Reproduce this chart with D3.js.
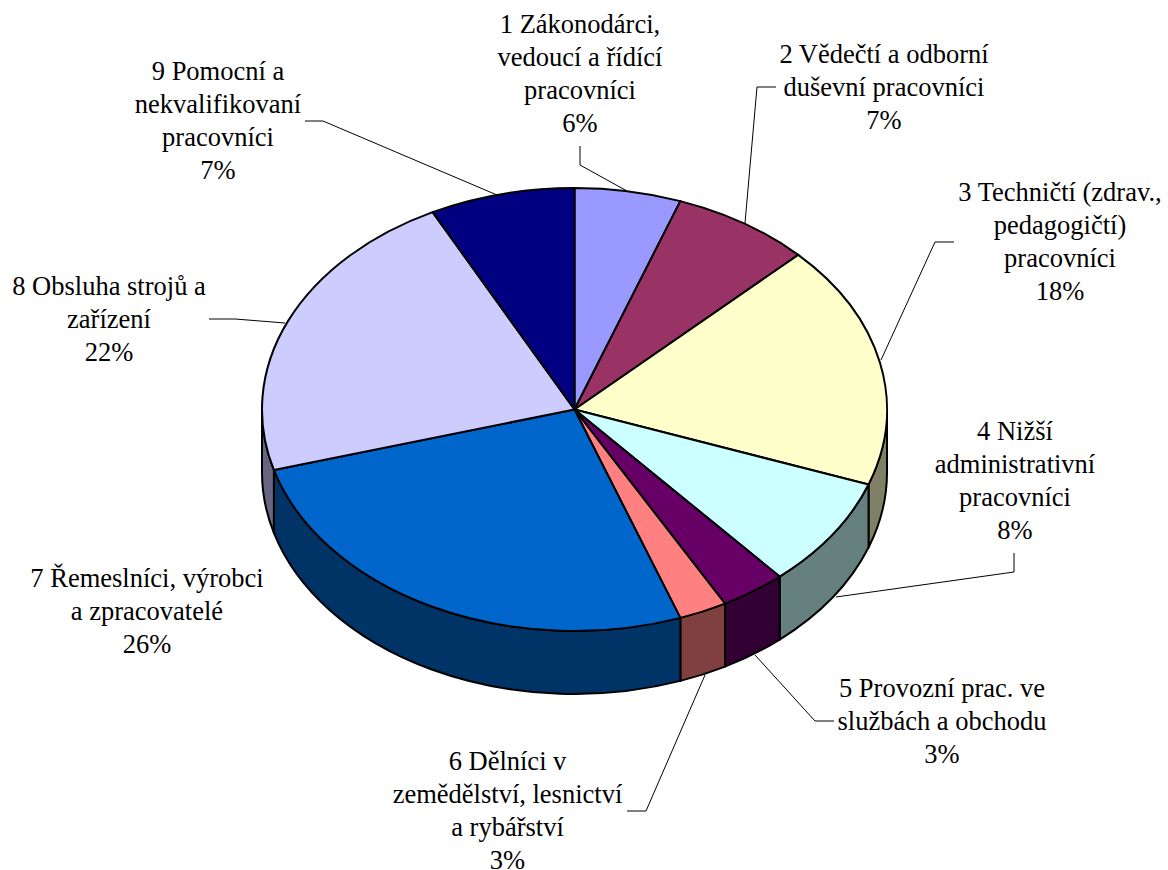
<!DOCTYPE html>
<html><head><meta charset="utf-8">
<script src="https://cdn.jsdelivr.net/npm/d3@7/dist/d3.min.js"></script>
<style>html,body{margin:0;padding:0;background:#fff}svg{display:block}</style>
</head><body><svg id="c" width="1168" height="870"></svg>
<script>
const categories=["1 Zákonodárci, vedoucí a řídící pracovníci","2 Vědečtí a odborní duševní pracovníci","3 Techničtí (zdrav., pedagogičtí) pracovníci","4 Nižší administrativní pracovníci","5 Provozní prac. ve službách a obchodu","6 Dělníci v zemědělství, lesnictví a rybářství","7 Řemeslníci, výrobci a zpracovatelé","8 Obsluha strojů a zařízení","9 Pomocní a nekvalifikovaní pracovníci"];
const values=[5.5,7.2,17.8,8.1,3.4,2.5,26.1,21.9,7.5];
const percentLabels=["6%","7%","18%","8%","3%","3%","26%","22%","7%"];
const colors=["#9999FF","#993366","#FFFFCC","#CCFFFF","#660066","#FF8080","#0066CC","#CCCCFF","#000080"];
const labelLines=[["1 Zákonodárci,","vedoucí a řídící","pracovníci"],["2 Vědečtí a odborní","duševní pracovníci"],["3 Techničtí (zdrav.,","pedagogičtí)","pracovníci"],["4 Nižší","administrativní","pracovníci"],["5 Provozní prac. ve","službách a obchodu"],["6 Dělníci v","zemědělství, lesnictví","a rybářství"],["7 Řemeslníci, výrobci","a zpracovatelé"],["8 Obsluha strojů a","zařízení"],["9 Pomocní a","nekvalifikovaní","pracovníci"]];
// layout annotations (label centre x, first baseline y; leader polyline)
const labelPos=[[580,33],[884,63],[1060,201],[1015,440],[942,697],[507.5,770],[147,587],[109,295],[218,80]];
const leaders=[[[580,146],[580,165],[627,191]],[[776,87],[757,87],[745,223]],[[954,242],[935,242],[881,360]],[[1014,553],[1014,572],[836,597]],[[834,721],[815,721],[755,655]],[[627,811],[646,811],[705,675]],[],[[209,319],[235,319],[285,323]],[[305,121],[323,121],[497,195]]];

const cx=574.5,cy=409.5,rx=312.5,ry=221.5,depth=63;
const sx=d3.scaleLinear().domain([-1,1]).range([cx-rx,cx+rx]);
const sy=d3.scaleLinear().domain([-1,1]).range([cy-ry,cy+ry]);
const px=a=>sx(Math.sin(a)),py=a=>sy(-Math.cos(a));
const arcs=d3.pie().sort(null).value(d=>d)(values);
const svg=d3.select("#c");
const shade=c=>{const k=d3.rgb(c);return d3.rgb(k.r/2,k.g/2,k.b/2).formatHex();};

const H=Math.PI/2,L=3*Math.PI/2;
const g=svg.append("g").attr("stroke","#000").attr("stroke-width",2).attr("stroke-linejoin","round");
g.selectAll("path.side").data(arcs.filter(d=>d.endAngle>H&&d.startAngle<L)).join("path").attr("class","side")
 .attr("fill",d=>shade(colors[d.index]))
 .attr("d",d=>{const a=Math.max(d.startAngle,H),b=Math.min(d.endAngle,L);
   return `M${px(a)},${py(a)}A${rx},${ry} 0 0 1 ${px(b)},${py(b)}L${px(b)},${py(b)+depth}A${rx},${ry} 0 0 0 ${px(a)},${py(a)+depth}Z`;});
g.selectAll("path.top").data(arcs).join("path").attr("class","top")
 .attr("fill",d=>colors[d.index])
 .attr("d",d=>{const large=d.endAngle-d.startAngle>Math.PI?1:0;
   return `M${cx},${cy}L${px(d.startAngle)},${py(d.startAngle)}A${rx},${ry} 0 ${large} 1 ${px(d.endAngle)},${py(d.endAngle)}Z`;});

const line=d3.line();
svg.append("g").attr("fill","none").attr("stroke","#000").attr("stroke-width",1)
 .selectAll("path").data(leaders.filter(l=>l.length)).join("path").attr("d",line);

const t=svg.append("g").attr("font-family","'Liberation Serif','Times New Roman',serif").attr("font-size",26.5).attr("fill","#000").attr("text-anchor","middle");
categories.forEach((c,i)=>{
  const lines=labelLines[i].concat(percentLabels[i]);
  const txt=t.append("text");
  lines.forEach((s,j)=>txt.append("tspan").attr("x",labelPos[i][0]).attr("y",labelPos[i][1]+j*33.1).text(s));
});
</script></body></html>
